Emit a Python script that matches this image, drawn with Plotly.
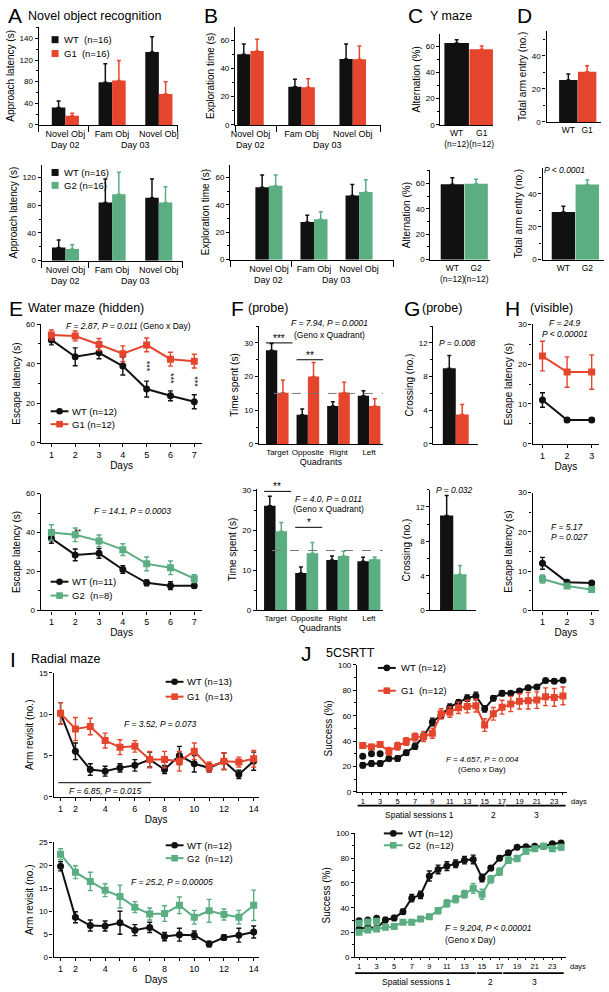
import plotly.graph_objects as go

W, H = 609, 992
BLACK = '#111111'
RED = '#E5452C'
GREEN = '#5BAD82'
FONT = 'Liberation Sans, Arial, sans-serif'

# ---------------- data ----------------
# A, B: novel object recognition
nor_labels = ['Novel Obj', 'Fam Obj', 'Novel Obj']
a1_wt = [32, 79, 135]
a1_wt_sem = [12, 34, 28]
a1_g1 = [17, 82, 57]
a1_g1_sem = [4.5, 37, 23]
a2_wt = [19, 84, 91]
a2_wt_sem = [11, 34, 27]
a2_g2 = [17, 96, 84]
a2_g2_sem = [6, 32, 23]

b1_wt = [50, 27, 46.6]
b1_wt_sem = [7.3, 5.2, 10.6]
b1_g1 = [52.2, 26.6, 46.4]
b1_g1_sem = [8.3, 6.1, 9.4]
b2_wt = [53, 27.5, 47]
b2_wt_sem = [9, 5, 8]
b2_g2 = [54, 29.5, 49.5]
b2_g2_sem = [8, 5.5, 9]

# C: Y maze, D: total arm entry
ymaze_labels1 = ['WT<br>(n=12)', 'G1<br>(n=12)']
ymaze_labels2 = ['WT<br>(n=12)', 'G2<br>(n=12)']
c1_vals = [62.3, 57.5]
c1_sem = [2.5, 2.5]
c2_vals = [59.5, 60]
c2_sem = [5.2, 3.4]
arm_labels1 = ['WT', 'G1']
arm_labels2 = ['WT', 'G2']
d1_vals = [25.5, 30.5]
d1_sem = [3.5, 3.5]
d2_vals = [29, 45.6]
d2_sem = [3.4, 2.8]

# E: water maze hidden
days7 = [1, 2, 3, 4, 5, 6, 7]
e1_wt = [52, 43.5, 45.5, 38.8, 27.2, 23.8, 20.8]
e1_wt_sem = [2.5, 4.5, 3, 4.5, 4, 2.5, 3.5]
e1_g1 = [54.5, 54, 49.7, 45, 49.5, 42.3, 41.3]
e1_g1_sem = [2.5, 2.5, 3, 4, 3.5, 3.5, 3.5]
e1_star_days = [5, 6, 7]
e2_wt = [37, 28.5, 29.3, 21, 14.2, 12.7, 12.7]
e2_wt_sem = [2.5, 3, 2.5, 2, 1.5, 2, 1]
e2_g2 = [40, 38.8, 35.7, 31.2, 23.9, 21.9, 16.3]
e2_g2_sem = [4, 3.5, 3, 3, 3.5, 3.5, 2]

# F: probe, time per quadrant
quadrants = ['Target', 'Opposite', 'Right', 'Left']
chance_level = 15
f1_wt = [27.8, 8.7, 11.3, 14.3]
f1_wt_sem = [2.0, 1.7, 1.2, 1.5]
f1_g1 = [15.2, 20, 15.3, 11.3]
f1_g1_sem = [3.8, 4.2, 3.0, 2.1]
f2_wt = [26.2, 9.4, 12.6, 12.3]
f2_wt_sem = [2.4, 1.5, 1.0, 1.0]
f2_g2 = [19.8, 14.3, 13.6, 12.8]
f2_g2_sem = [2.2, 2.7, 1.2, 0.6]

# G: platform crossings
g1_vals = [9, 3.5]
g1_sem = [1.5, 1.2]
g2_vals = [11, 4.2]
g2_sem = [2.3, 1.0]

# H: visible platform
days3 = [1, 2, 3]
h1_wt = [11, 6, 6]
h1_wt_sem = [1.8, 0.5, 0.5]
h1_g1 = [22, 18, 18]
h1_g1_sem = [3.7, 3.8, 4.3]
h2_wt = [12, 7.2, 7]
h2_wt_sem = [1.5, 0.5, 0.4]
h2_g2 = [8, 6.2, 5.3]
h2_g2_sem = [1, 0.5, 0.5]

# I: radial maze
days14 = list(range(1, 15))
i1_wt = [10.1, 5.5, 3.3, 3.1, 3.5, 3.8, 4.5, 3.3, 5.0, 4.0, 3.5, 4.3, 2.7, 4.3]
i1_wt_sem = [1.3, 1.0, 0.7, 0.6, 0.5, 0.7, 0.9, 0.5, 1.1, 1.0, 0.5, 1.0, 0.5, 1.1]
i1_g1 = [10.1, 8.2, 8.5, 6.8, 6.0, 6.1, 4.5, 4.5, 4.3, 5.5, 3.6, 4.3, 4.2, 4.6]
i1_g1_sem = [1.3, 1.4, 1.0, 0.9, 0.9, 0.7, 1.0, 1.0, 1.2, 1.0, 0.6, 1.0, 0.6, 1.0]
i1_first_days = [1, 7]
i2_wt = [19.8, 8.7, 6.9, 6.8, 7.5, 5.9, 6.5, 4.5, 4.9, 4.8, 2.9, 4.3, 4.8, 5.5]
i2_wt_sem = [1.0, 1.2, 1.2, 1.1, 2.5, 1.2, 1.1, 0.9, 1.4, 0.9, 0.6, 0.6, 1.5, 1.3]
i2_g2 = [22.4, 18.5, 16.5, 14.6, 13.2, 10.9, 9.4, 9.5, 11.3, 8.7, 10.1, 9.3, 8.7, 11.3]
i2_g2_sem = [1.2, 1.4, 2.0, 1.4, 2.5, 1.2, 1.3, 1.7, 1.8, 1.5, 2.5, 1.2, 1.5, 3.3]

# J: 5CSRTT
days24 = list(range(1, 25))
sessions = ['Spatial sessions 1', '2', '3']
session_days = [(1, 14), (15, 17), (18, 24)]
j1_wt = [21, 22.3, 22.3, 26.2, 26.2, 30.8, 35.9, 43.6, 55.1, 60.3, 66.7, 70.5,
         73.8, 75.6, 65.4, 73.8, 77.7, 77.7, 79.5, 82, 82.6, 87.7, 87.2, 87.9]
j1_wt_sem = [2, 2, 2, 2, 2, 2, 2.5, 2.5, 3, 2.5, 2.5, 2,
             2.5, 3, 2.5, 2, 2, 1.5, 1.5, 1.5, 1.5, 1.5, 1.5, 1.5]
j1_g1 = [36.4, 35.4, 37.2, 32.0, 35.9, 39.7, 43.1, 43.6, 46.2, 61.5, 62.8, 66.2,
         67.2, 67.9, 52.6, 61.5, 66.7, 69.2, 71.3, 71.8, 72.3, 74.9, 74.4, 75.6]
j1_g1_sem = [2, 2, 2, 3, 3, 3, 3, 4, 4, 4, 4, 4.5,
             5, 5, 5, 5, 5.5, 6, 6, 6.5, 6.5, 7, 7, 7]
j1_wt_pre = [28, 30, 30]
j2_wt = [22.9, 24.3, 23.5, 30.1, 31.7, 36.8, 47.7, 50.4, 65.6, 70.9, 73.6, 75.5,
         78.4, 79, 64, 72, 80, 84.3, 88.8, 89.3, 89.6, 89.6, 91.7, 92.3]
j2_wt_sem = [2, 2, 2, 2, 2, 2, 3, 3, 4, 3.5, 3.5, 3,
             3, 3.5, 3, 2, 2, 1.5, 1.5, 1, 1, 1, 1, 1.5]
j2_g2 = [20.3, 22.1, 22.9, 24.3, 24.8, 28.3, 28.3, 30.9, 32.8, 37.6, 43.5, 46.9,
         50.9, 55.7, 50.9, 62.9, 69.1, 78.4, 79.7, 85.6, 87.7, 89.6, 87.7, 88.8]
j2_g2_sem = [2, 2, 2, 1.5, 1.5, 1.5, 1.5, 1.5, 2, 2.5, 3, 3,
             3, 4, 4, 3, 3, 2.5, 2.5, 2, 1.5, 1, 2, 2]
j2_wt_pre = [29.5, 30, 31.5]
j2_g2_pre = [27.5, 28.5, 29]


# ---------------- layout helpers ----------------
def px(x):
    return x / W


def py(y):
    return 1 - y / H


# index: (x left, x right), (y top, y bottom) in pixels, x range, y range
panels = {
    'A1': (1, (35, 175), (23, 122), [-0.57, 2.4], [0, 181.5]),
    'A2': (2, (38, 180), (162, 259), [-0.51, 2.51], [0, 139]),
    'B1': (3, (233, 380), (23, 122), [-0.3, 2.55], [0, 69.4]),
    'B2': (4, (228, 393), (162, 258), [-0.86, 2.77], [0, 69.6]),
    'C1': (5, (440, 493), (30, 122), [-0.65, 1.45], [0, 69.4]),
    'C2': (6, (430, 490), (168, 258), [-0.92, 1.58], [0, 70.4]),
    'D1': (7, (547, 602), (27, 119), [-1.16, 1.74], [0, 55.3]),
    'D2': (8, (543, 605), (165, 258), [-0.875, 1.7], [0, 56]),
    'E1': (9, (37, 200), (323, 443), [0.55, 7.34], [0, 60]),
    'E2': (10, (37, 200), (494, 612), [0.55, 7.34], [0, 60]),
    'F1': (11, (257, 382), (325, 444), [-0.6, 3.45], [0, 35]),
    'F2': (12, (255, 382), (489, 612), [-0.6, 3.45], [0, 30.5]),
    'G1': (13, (433, 478), (325, 444), [-1, 1], [0, 14]),
    'G2': (14, (430, 476), (490, 612), [-1, 1], [0, 14]),
    'H1': (15, (533, 600), (323, 444), [0.6, 3.3], [0, 30]),
    'H2': (16, (533, 600), (493, 612), [0.6, 3.3], [0, 30]),
    'I1': (17, (50, 257), (675, 800), [0.53, 14.35], [0, 15]),
    'I2': (18, (50, 257), (846, 962), [0.53, 14.35], [0, 25]),
    'J1': (19, (356, 568), (667, 795), [0.35, 24.5], [0, 100]),
    'J2': (20, (354, 567), (837, 962), [0.55, 24.6], [0, 100]),
}


def refs(name):
    i = panels[name][0]
    s = '' if i == 1 else str(i)
    return 'x' + s, 'y' + s


axis_style = dict(showline=True, linecolor='black', linewidth=1.3, ticks='outside',
                  ticklen=3, tickwidth=1.2, tickcolor='black', showgrid=False,
                  zeroline=False, tickfont=dict(size=8, color='black'))

layout_axes = {}


def set_axes(name, xkw=None, ykw=None):
    i, (x0, x1), (yt, yb), xr, yr = panels[name]
    s = '' if i == 1 else str(i)
    xa = dict(axis_style, domain=[px(x0), px(x1)], range=xr, anchor='y' + s, tickangle=0)
    ya = dict(axis_style, domain=[py(yb), py(yt)], range=yr, anchor='x' + s)
    xa.update(xkw or {})
    ya.update(ykw or {})
    layout_axes['xaxis' + s] = xa
    layout_axes['yaxis' + s] = ya


def ytitle(text, standoff=3):
    return dict(text=text, font=dict(size=10, color='black'), standoff=standoff)


fig = go.Figure()


def add_bar(name, x, y, sem, color, offset, width):
    xr, yr = refs(name)
    fig.add_trace(go.Bar(
        x=x, y=y, width=width, offset=offset, xaxis=xr, yaxis=yr,
        marker=dict(color=color, line=dict(width=0)), showlegend=False,
        error_y=dict(type='data', symmetric=False, array=sem, arrayminus=[0] * len(sem),
                     color=color, thickness=1.5, width=2)))


def add_line(name, x, y, sem, color, symbol):
    xr, yr = refs(name)
    fig.add_trace(go.Scatter(
        x=x, y=y, mode='lines+markers', xaxis=xr, yaxis=yr,
        line=dict(color=color, width=2), marker=dict(symbol=symbol, size=7, color=color),
        error_y=dict(type='data', array=sem, color=color, thickness=1.4, width=2.5),
        showlegend=False))


# ---------------- A / B bars ----------------
nor_x = list(range(len(nor_labels)))
groups = [
    ('A1', a1_wt, a1_wt_sem, a1_g1, a1_g1_sem, RED, 0.29),
    ('A2', a2_wt, a2_wt_sem, a2_g2, a2_g2_sem, GREEN, 0.29),
    ('B1', b1_wt, b1_wt_sem, b1_g1, b1_g1_sem, RED, 0.26),
    ('B2', b2_wt, b2_wt_sem, b2_g2, b2_g2_sem, GREEN, 0.3),
]
for name, wt, wts, gm, gs, col, w in groups:
    add_bar(name, nor_x, wt, wts, BLACK, -w, w)
    add_bar(name, nor_x, gm, gs, col, 0, w)

nor_xaxis = dict(tickmode='array', tickvals=nor_x, ticktext=nor_labels, ticks='',
                 tickfont=dict(size=9, color='black'))

for name, title, ymin in (('A1', 'Approach latency (s)', 20),
                          ('A2', 'Approach latency (s)', 20),
                          ('B1', 'Exploration time (s)', 10),
                          ('B2', 'Exploration time (s)', 10)):
    xr_ = panels[name][3]
    xkw = dict(nor_xaxis)
    xkw['minor'] = dict(tickmode='array', tickvals=[xr_[0], 0.5, xr_[1]], ticks='outside',
                        ticklen=6, tickwidth=1.3, tickcolor='black')
    if name == 'A1':
        ykw = dict(tickmode='array', tickvals=[0, 40, 80, 120, 160],
                   ticktext=['0', '40', '80', '120', '140'])
    elif name == 'A2':
        ykw = dict(dtick=40)
    else:
        ykw = dict(dtick=20)
    ykw.update(minor=dict(dtick=ymin, ticks='outside', ticklen=2, tickcolor='black'),
               title=ytitle(title))
    set_axes(name, xkw, ykw)

# ---------------- C / D bars ----------------
pair_x = [0, 1]
for name, vals, sem, col, labels, title in (
        ('C1', c1_vals, c1_sem, RED, ymaze_labels1, 'Alternation (%)'),
        ('C2', c2_vals, c2_sem, GREEN, ymaze_labels2, 'Alternation (%)'),
        ('D1', d1_vals, d1_sem, RED, arm_labels1, 'Total arm entry (no.)'),
        ('D2', d2_vals, d2_sem, GREEN, arm_labels2, 'Total arm entry (no.)')):
    for k, c in enumerate((BLACK, col)):
        add_bar(name, [pair_x[k]], [vals[k]], [sem[k]], c, -0.49, 0.98)
    set_axes(name,
             dict(tickmode='array', tickvals=pair_x, ticktext=labels, ticks='',
                  tickfont=dict(size=8.5, color='black')),
             dict(dtick=20, minor=dict(dtick=10, ticks='outside', ticklen=2,
                                       tickcolor='black'),
                  title=ytitle(title)))

# ---------------- E lines ----------------
add_line('E1', days7, e1_wt, e1_wt_sem, BLACK, 'circle')
add_line('E1', days7, e1_g1, e1_g1_sem, RED, 'square')
add_line('E2', days7, e2_wt, e2_wt_sem, BLACK, 'circle')
add_line('E2', days7, e2_g2, e2_g2_sem, GREEN, 'square')
for name in ('E1', 'E2'):
    set_axes(name,
             dict(tickmode='array', tickvals=days7, tickfont=dict(size=9, color='black'),
                  title=dict(text='Days', font=dict(size=10, color='black'), standoff=2)),
             dict(dtick=20, minor=dict(dtick=10, ticks='outside', ticklen=2,
                                       tickcolor='black'),
                  title=ytitle('Escape latency (s)')))

# ---------------- F bars ----------------
qx = list(range(len(quadrants)))
for name, wt, wts, gm, gs, col in (('F1', f1_wt, f1_wt_sem, f1_g1, f1_g1_sem, RED),
                                   ('F2', f2_wt, f2_wt_sem, f2_g2, f2_g2_sem, GREEN)):
    add_bar(name, qx, wt, wts, BLACK, -0.37, 0.37)
    add_bar(name, qx, gm, gs, col, 0, 0.37)
    set_axes(name,
             dict(tickmode='array', tickvals=qx, ticktext=quadrants, ticks='',
                  tickfont=dict(size=8, color='black'),
                  title=dict(text='Quadrants', font=dict(size=9, color='black'), standoff=2)),
             dict(dtick=10, minor=dict(dtick=5, ticks='outside', ticklen=2, tickcolor='black'),
                  title=ytitle('Time spent (s)')))

# ---------------- G bars ----------------
for name, vals, sem, col in (('G1', g1_vals, g1_sem, RED), ('G2', g2_vals, g2_sem, GREEN)):
    add_bar(name, [0], [vals[0]], [sem[0]], BLACK, -0.58, 0.58)
    add_bar(name, [0], [vals[1]], [sem[1]], col, 0, 0.58)
    set_axes(name, dict(showticklabels=False, ticks=''),
             dict(dtick=4, minor=dict(dtick=2, ticks='outside', ticklen=2, tickcolor='black'),
                  title=ytitle('Crossing (no.)')))

# ---------------- H lines ----------------
add_line('H1', days3, h1_wt, h1_wt_sem, BLACK, 'circle')
add_line('H1', days3, h1_g1, h1_g1_sem, RED, 'square')
add_line('H2', days3, h2_wt, h2_wt_sem, BLACK, 'circle')
add_line('H2', days3, h2_g2, h2_g2_sem, GREEN, 'square')
for name in ('H1', 'H2'):
    set_axes(name,
             dict(tickmode='array', tickvals=days3, tickfont=dict(size=9, color='black'),
                  title=dict(text='Days', font=dict(size=10, color='black'), standoff=2)),
             dict(dtick=10, minor=dict(dtick=5, ticks='outside', ticklen=2, tickcolor='black'),
                  title=ytitle('Escape latency (s)')))

# ---------------- I lines ----------------
add_line('I1', days14, i1_wt, i1_wt_sem, BLACK, 'circle')
add_line('I1', days14, i1_g1, i1_g1_sem, RED, 'square')
add_line('I2', days14, i2_wt, i2_wt_sem, BLACK, 'circle')
add_line('I2', days14, i2_g2, i2_g2_sem, GREEN, 'square')
i_ticktext = [str(d) if d in (1, 2) or d % 2 == 0 else '' for d in days14]
for name in ('I1', 'I2'):
    set_axes(name,
             dict(tickmode='array', tickvals=days14, ticktext=i_ticktext,
                  tickfont=dict(size=9, color='black'),
                  title=dict(text='Days', font=dict(size=10, color='black'), standoff=2)),
             dict(dtick=5, title=ytitle('Arm revisit (no.)')))

# ---------------- J lines ----------------
add_line('J1', days24, j1_wt, j1_wt_sem, BLACK, 'circle')
add_line('J1', days24, j1_g1, j1_g1_sem, RED, 'square')
add_line('J2', days24, j2_wt, j2_wt_sem, BLACK, 'circle')
add_line('J2', days24, j2_g2, j2_g2_sem, GREEN, 'square')
for name, pre, col, sym in (('J1', j1_wt_pre, BLACK, 'circle'),
                            ('J2', j2_wt_pre, BLACK, 'circle'),
                            ('J2', j2_g2_pre, GREEN, 'square')):
    xr, yr = refs(name)
    fig.add_trace(go.Scatter(x=days24[:len(pre)], y=pre, mode='markers', xaxis=xr, yaxis=yr,
                             marker=dict(symbol=sym, size=7, color=col), showlegend=False))
for name in ('J1', 'J2'):
    set_axes(name,
             dict(tick0=1, dtick=2, ticklen=2, tickfont=dict(size=7.5, color='black'),
                  minor=dict(dtick=1, ticks='outside', ticklen=2, tickcolor='black')),
             dict(dtick=20, minor=dict(dtick=10, ticks='outside', ticklen=2, tickcolor='black'),
                  title=ytitle('Success (%)')))

# ---------------- annotations & shapes ----------------
ann = []
shapes = []


def note(text, x, y, xref='paper', yref='paper', size=9, **kw):
    d = dict(text=text, x=x, y=y, xref=xref, yref=yref, showarrow=False,
             xanchor='center', yanchor='middle',
             font=dict(size=size, color='black', family=FONT))
    d.update(kw)
    ann.append(d)


# panel letters and titles
for letter, lx, title, tx, ly in (('A', 2, 'Novel object recognition', 22, 12),
                                  ('B', 200, '', 0, 12),
                                  ('C', 405, 'Y maze', 428, 12),
                                  ('D', 515, '', 0, 12),
                                  ('E', 3, 'Water maze (hidden)', 22, 307),
                                  ('F', 227, '(probe)', 244, 307),
                                  ('G', 401, '(probe)', 419, 307),
                                  ('H', 503, '(visible)', 528, 307),
                                  ('I', 4, 'Radial maze', 25, 661),
                                  ('J', 297, '5CSRTT', 323, 655)):
    note(letter, px(lx), py(ly), size=21, xanchor='left')
    if title:
        note(title, px(tx), py(ly), size=12.5, xanchor='left')

# day labels under NOR panels
for name in ('A1', 'A2', 'B1', 'B2'):
    xr, yr = refs(name)
    note('Day 02', 0, 0, xref=xr, yref=yr + ' domain', yanchor='top', yshift=-13)
    note('Day 03', 1.5, 0, xref=xr, yref=yr + ' domain', yanchor='top', yshift=-13)


# statistics (data coordinates inside the plot, paper coordinates above it)
def stat(name, text, x, y, size=8.5, **kw):
    xr, yr = refs(name)
    note(text, x, y, xref=xr, yref=yr, size=size, **kw)


def stat_top(name, text, x, ypix, size=8.5, **kw):
    xr, yr = refs(name)
    note(text, x, py(ypix), xref=xr, yref='paper', size=size, **kw)


stat_top('D2', '<i>P < 0.0001</i>', 0.05, 168)
stat('E1', '<i>F = 2.87, P = 0.011</i> (Geno x Day)', 4.25, 59)
stat('E2', '<i>F = 14.1, P = 0.0003</i>', 4.4, 51)
stat('E2', '**', 2.1, 40.5, size=8)
for d in e1_star_days:
    k = days7.index(d)
    mid = ((e1_wt[k] + e1_wt_sem[k]) + (e1_g1[k] - e1_g1_sem[k])) / 2
    stat('E1', '***', d, mid, size=9, textangle=90)

stat_top('F1', '<i>F = 7.94, P = 0.0001</i>', 1.7, 322)
stat('F1', '(Geno x Quadrant)', 1.7, 32.4)
stat('F2', '<i>F = 4.0, P = 0.011</i>', 1.7, 28)
stat('F2', '(Geno x Quadrant)', 1.7, 25.3)
for name, q, y, stars in (('F1', 0, 30, '***'), ('F1', 1, 25, '**'),
                          ('F2', 0, 29.8, '**'), ('F2', 1, 20.8, '*')):
    xr, yr = refs(name)
    shapes.append(dict(type='line', xref=xr, yref=yr, x0=q - 0.37, x1=q + 0.5, y0=y, y1=y,
                       line=dict(color='black', width=1)))
    note(stars, q + 0.06, y, xref=xr, yref=yr, size=10, yanchor='bottom', yshift=-3)
for name in ('F1', 'F2'):
    xr, yr = refs(name)
    shapes.append(dict(type='line', xref=xr + ' domain', yref=yr, x0=0.12, x1=1.0,
                       y0=chance_level, y1=chance_level,
                       line=dict(color='#777777', width=1, dash='dash')))

stat('G1', '<i>P = 0.008</i>', 0.1, 12)
stat_top('G2', '<i>P = 0.032</i>', 0.05, 490)
stat_top('H1', '<i>F = 24.9</i>', 1.9, 322)
stat('H1', '<i>P < 0.00001</i>', 1.9, 27.5)
stat('H2', '<i>F = 5.17</i>', 1.25, 21.2, xanchor='left')
stat('H2', '<i>P = 0.027</i>', 1.25, 18.6, xanchor='left')

stat('I1', '<i>F = 3.52, P = 0.073</i>', 7.7, 8.8)
xr, yr = refs('I1')
shapes.append(dict(type='line', xref=xr, yref=yr, x0=i1_first_days[0] - 0.15,
                   x1=i1_first_days[1] + 0.1, y0=1.7, y1=1.7,
                   line=dict(color='black', width=1)))
stat('I1', '<i>F = 6.85, P = 0.015</i>', 4.05, 1.6, yanchor='top')
stat('I2', '<i>F = 25.2, P = 0.00005</i>', 8.5, 16.4)

stat('J1', '<i>F = 4.657, P = 0.004</i>', 14.7, 25.4, size=8)
stat('J1', '(Geno x Day)', 14.7, 17.4, size=8)
stat('J2', '<i>F = 9.204, P < 0.00001</i>', 15.7, 23.6, size=8.5)
stat('J2', '(Geno x Day)', 10.6, 14.2, size=8.5, xanchor='left')

# 5CSRTT session bars
for name, line_y, text_y in (('J1', 809, 818), ('J2', 978, 987)):
    xr, yr = refs(name)
    note('days', 1, 0, xref=xr + ' domain', yref=yr + ' domain', size=7.5,
         xanchor='left', yanchor='top', yshift=-3, xshift=2)
    for label, (d0, d1) in zip(sessions, session_days):
        shapes.append(dict(type='line', xref=xr, yref='paper', x0=d0 - 0.6, x1=d1 + 0.3,
                           y0=py(line_y), y1=py(line_y), line=dict(color='black', width=1.8)))
        note(label, (d0 + d1) / 2, py(text_y), xref=xr, size=8.5)


# hand-made legends: (symbol kind, color, x0, x1, y, text x, text)
def legend_item(kind, color, x0, x1, y, tx, text):
    cx = (x0 + x1) / 2
    if kind == 'bar':
        shapes.append(dict(type='rect', xref='paper', yref='paper', xsizemode='pixel',
                           ysizemode='pixel', xanchor=px(cx), yanchor=py(y),
                           x0=-3.5, x1=3.5, y0=-3.5, y1=3.5,
                           fillcolor=color, line=dict(width=0)))
    else:
        shapes.append(dict(type='line', xref='paper', yref='paper', x0=px(x0), x1=px(x1),
                           y0=py(y), y1=py(y), line=dict(color=color, width=2)))
        shapes.append(dict(type='circle' if kind == 'circle' else 'rect',
                           xref='paper', yref='paper', xsizemode='pixel', ysizemode='pixel',
                           xanchor=px(cx), yanchor=py(y), x0=-3.3, x1=3.3, y0=-3.3, y1=3.3,
                           fillcolor=color, line=dict(width=0)))
    note(text, px(tx), py(y), size=9.5, xanchor='left')


legend_items = [
    ('bar', BLACK, 48, 55, 36, 58, 'WT&nbsp; (n=16)'),
    ('bar', RED, 48, 55, 50, 58, 'G1&nbsp; (n=16)'),
    ('bar', BLACK, 48, 55, 170, 58, 'WT (n=16)'),
    ('bar', GREEN, 48, 55, 183, 58, 'G2 (n=16)'),
    ('circle', BLACK, 47, 65, 411, 67, 'WT (n=12)'),
    ('square', RED, 47, 65, 424, 67, 'G1 (n=12)'),
    ('circle', BLACK, 47, 65, 583, 67, 'WT (n=11)'),
    ('square', GREEN, 47, 65, 597, 67, 'G2&nbsp; (n=8)'),
    ('circle', BLACK, 163, 181, 684, 183, 'WT (n=13)'),
    ('square', RED, 163, 181, 699, 183, 'G1&nbsp; (n=13)'),
    ('circle', BLACK, 163, 181, 849, 183, 'WT (n=12)'),
    ('square', GREEN, 163, 181, 862, 183, 'G2&nbsp; (n=12)'),
    ('circle', BLACK, 377, 395, 670, 398, 'WT (n=12)'),
    ('square', RED, 377, 395, 693, 398, 'G1&nbsp; (n=12)'),
    ('circle', BLACK, 383, 402, 837, 405, 'WT (n=12)'),
    ('square', GREEN, 383, 402, 849, 405, 'G2&nbsp; (n=12)'),
]
for item in legend_items:
    legend_item(*item)

fig.update_layout(
    width=W, height=992,
    margin=dict(l=0, r=0, t=0, b=0),
    paper_bgcolor='white', plot_bgcolor='white',
    font=dict(family=FONT, color='black'),
    barmode='overlay',
    showlegend=False,
    annotations=ann,
    shapes=shapes,
    **layout_axes,
)

# the page's default body margin would shift the figure by 8 px
fig.write_html('out.html', config={'displayModeBar': False},
               post_script="document.body.style.margin='0px';"
                           "document.body.style.overflow='hidden';")
